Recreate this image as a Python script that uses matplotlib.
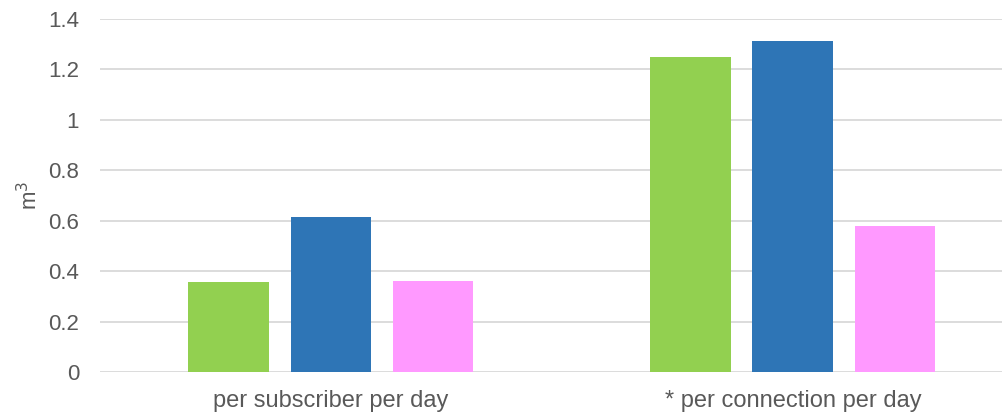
import matplotlib
matplotlib.use("Agg")
import matplotlib.pyplot as plt
import numpy as np

plt.rcParams['font.family'] = ['Liberation Sans', 'DejaVu Sans']

categories = ['per subscriber per day', '* per connection per day']
green_vals = [0.355, 1.25]
blue_vals = [0.615, 1.313]
pink_vals = [0.36, 0.578]
colors = ['#92D050', '#2E75B6', '#FF99FF']

fig = plt.figure(figsize=(10.03, 4.15), dpi=100)
ax = fig.add_axes([100 / 1003, 43 / 415, 903 / 1003, 353 / 415])

x = np.arange(len(categories))
w = 0.175
step = 0.221
for i, vals in enumerate([green_vals, blue_vals, pink_vals]):
    ax.bar(x + (i - 1) * step, vals, width=w, color=colors[i], zorder=3)

ax.set_xlim(-0.5, 1.455)
ax.set_ylim(0, 1.4)
ax.set_yticks(np.arange(0, 1.41, 0.2))
ax.set_yticklabels(['0', '0.2', '0.4', '0.6', '0.8', '1', '1.2', '1.4'])
ax.set_xticks(x)
ax.set_xticklabels(categories)
ax.yaxis.grid(True, color='#D9D9D9', linewidth=1.3, zorder=0)
ax.set_axisbelow(True)
for s in ax.spines.values():
    s.set_visible(False)
ax.tick_params(axis='both', length=0, colors='#595959')
ax.tick_params(axis='y', pad=15, labelsize=16)
ax.tick_params(axis='x', pad=13, labelsize=17)
ax.set_ylabel('m$^3$', fontsize=16, color='#595959', labelpad=4)

fig.savefig('out.png', dpi=100)
